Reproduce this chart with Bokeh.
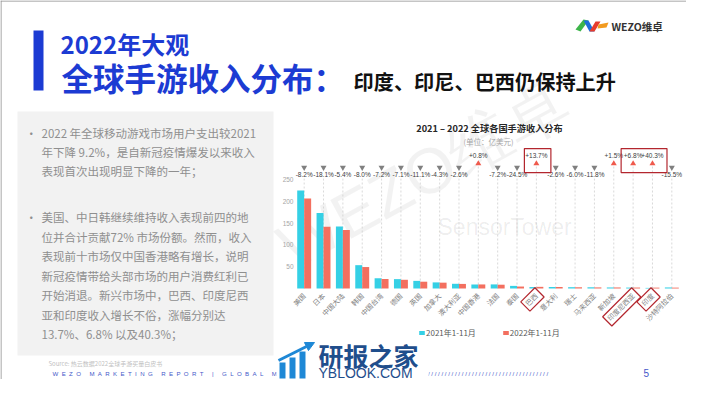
import math
from bokeh.plotting import figure
from bokeh.models import (ColumnDataSource, Range1d, FixedTicker, Label, Span,
                          BoxAnnotation, PolyAnnotation, Legend, LegendItem, Arrow, NormalHead)
from bokeh.embed import file_html
from bokeh.resources import INLINE
from bokeh.core.properties import value

# ---------------- data ----------------
categories = ["美国", "日本", "中国大陆", "韩国", "中国台湾", "德国", "英国", "加拿大",
              "澳大利亚", "中国香港", "法国", "泰国", "巴西", "意大利", "瑞士", "马来西亚",
              "新加坡", "印度尼西亚", "印度", "沙特阿拉伯"]
rev_2021 = [225.0, 173.0, 142.0, 53.5, 23.5, 21.5, 17.5, 14.0, 10.8, 9.2,
            9.4, 6.0, 3.3, 3.5, 3.0, 2.8, 2.4, 2.1, 1.4, 2.4]
rev_2022 = [206.5, 141.7, 134.3, 49.2, 21.8, 20.0, 15.6, 13.4, 10.5, 9.3,
            8.7, 4.5, 3.8, 3.4, 2.8, 2.5, 2.4, 2.2, 2.0, 2.0]
yoy_pct = [-8.2, -18.1, -5.4, -8.0, -7.2, -7.1, -11.1, -4.3, -2.6, 0.8,
           -7.2, -24.5, 13.7, -2.6, -6.0, -11.8, 1.5, 6.8, 40.3, -15.5]
y_ticks = [50, 100, 150, 200, 250]
series_names = ["2021年1-11月", "2022年1-11月"]
highlight_groups = [["巴西"], ["印度尼西亚", "印度"]]

chart_title = "2021 – 2022 全球各国手游收入分布"
chart_unit = "(单位：亿美元)"
head1 = "2022年大观"
head2 = "全球手游收入分布："
head3 = "印度、印尼、巴西仍保持上升"
para1 = ["2022 年全球移动游戏市场用户支出较2021",
         "年下降 9.2%，是自新冠疫情爆发以来收入",
         "表现首次出现明显下降的一年；"]
para2 = ["美国、中日韩继续维持收入表现前四的地",
         "位并合计贡献72% 市场份额。然而，收入",
         "表现前十市场仅中国香港略有增长，说明",
         "新冠疫情带给头部市场的用户消费红利已",
         "开始消退。新兴市场中，巴西、印度尼西",
         "亚和印度收入增长不俗，涨幅分别达",
         "13.7%、6.8% 以及40.3%；"]
source_note = "Source:  热云数据2022全球手游买量白皮书"
footer_text = "WEZO MARKETING REPORT | GLOBAL MOBILE GAME"
page_no = "5"

# ---------------- style / geometry ----------------
FONT = "Noto Sans CJK SC"
NUMFONT = "Liberation Sans"
C21 = "#35d0e5"
C22 = "#f36f5f"
BOXRED = "#b3262e"
BLUE = "#1c3bd3"
NB = "\u00a0"

W, H = 686, 379
X0, Y0 = 294, 288            # canvas px of data (0, 0)
U = 387 / 20                 # px per category
V = 143 / 328                # px per revenue unit
STANDOFF = 6

p = figure(width=W, height=H,
           x_range=Range1d(-X0 / U, (W - X0) / U),
           y_range=Range1d(-(H - Y0) / V, Y0 / V),
           min_border=0, output_backend="svg", toolbar_location=None, tools="")
p.outline_line_color = None
p.grid.visible = False
p.background_fill_color = "white"
p.border_fill_color = "white"

cx = [i + 0.5 for i in range(len(categories))]

p.xaxis.fixed_location = 0
p.xaxis.ticker = FixedTicker(ticks=cx)
p.xaxis.major_label_overrides = {c: name for c, name in zip(cx, categories)}
p.xaxis.axis_line_color = None
p.xaxis.major_tick_line_color = None
p.xaxis.minor_tick_line_color = None
p.xaxis.major_tick_out = 0
p.xaxis.major_label_standoff = STANDOFF
p.xaxis.major_label_orientation = math.pi / 4
p.xaxis.major_label_text_font = FONT
p.xaxis.major_label_text_font_size = "7px"
p.xaxis.major_label_text_color = "#808080"

p.yaxis.fixed_location = 0
p.yaxis.ticker = FixedTicker(ticks=y_ticks)
p.yaxis.axis_line_color = None
p.yaxis.major_tick_line_color = None
p.yaxis.minor_tick_line_color = None
p.yaxis.major_tick_out = 0
p.yaxis.major_label_standoff = 1
p.yaxis.major_label_text_font = NUMFONT
p.yaxis.major_label_text_font_size = "6.5px"
p.yaxis.major_label_text_color = "#a6a6a6"


def DX(rx):  # canvas px x -> data x
    return (rx - X0) / U


def DY(ry):  # canvas px y -> data y
    return (Y0 - ry) / V


def lab(text, x, y, size, color, bold=False, align="left", baseline="middle",
        angle=0.0, alpha=1.0, font=FONT):
    p.add_layout(Label(x=DX(x), y=DY(y), text=text,
                       text_font=font, text_font_size=f"{size}px", text_color=color,
                       text_font_style="bold" if bold else "normal", text_align=align,
                       text_baseline=baseline, angle=angle, text_alpha=alpha))


def box(x0, y0, x1, y1, color, alpha=1.0):
    p.add_layout(BoxAnnotation(left=DX(x0), right=DX(x1), top=DY(y0), bottom=DY(y1),
                               fill_color=color, fill_alpha=alpha, line_color=None,
                               line_alpha=0))


def poly(pts, color):
    p.add_layout(PolyAnnotation(xs=[DX(a) for a, b in pts], ys=[DY(b) for a, b in pts],
                                fill_color=color, fill_alpha=1.0, line_color=None,
                                line_alpha=0))


# ---------------- slide background pieces ----------------
box(17, 111, 273, 355, "#f2f2f2")
p.add_layout(Span(location=DX(0.5), dimension="height", line_color="#8c8c8c", line_width=1))
p.add_layout(Span(location=DY(0.5), dimension="width", line_color="#8c8c8c", line_width=1))

# ---------------- chart glyphs ----------------
neg = [v < 0 for v in yoy_pct]
src = ColumnDataSource(dict(
    cx=cx,
    x21=[c - 0.18 for c in cx], x22=[c + 0.18 for c in cx],
    y21=rev_2021, y22=rev_2022,
    seg_top=[252 if n else 283 for n in neg],
    tri_y=[277.5 if n else 286.5 for n in neg],
    marker=["inverted_triangle" if n else "triangle" for n in neg],
    tri_col=["#808080" if n else "#ef5a4c" for n in neg],
    lab_y=[261.5 if n else 305 for n in neg],
    lab=[f"{v:+.1f}%" for v in yoy_pct],
    zero=[0] * len(categories),
))

# chart watermarks (behind)
p.text(x=[DX(300)], y=[DY(282)], text=["WEZO维卓"], angle=0.5, text_font=value(NUMFONT),
       text_font_size="64px", text_color="#000000", text_alpha=0.05, text_baseline="bottom")
p.text(x=[DX(437)], y=[DY(226)], text=["SensorTower"], text_font=value(NUMFONT),
       text_font_size="23px", text_color="#000000", text_alpha=0.08, text_baseline="middle")

p.segment(x0="cx", y0="zero", x1="cx", y1="seg_top", source=src,
          line_color="#cfcfcf", line_width=0.8, line_dash="2 2")
r1 = p.vbar(x="x21", top="y21", width=0.36, source=src, fill_color=C21, line_color=None)
r2 = p.vbar(x="x22", top="y22", width=0.36, source=src, fill_color=C22, line_color=None)
p.scatter(x="cx", y="tri_y", marker="marker", size=6, fill_color="tri_col",
          line_color=None, source=src)
p.text(x="cx", y="lab_y", text="lab", source=src, text_align="center",
       text_baseline="middle", text_font=value(NUMFONT), text_font_size="6.5px",
       text_color="#404040")

# highlight boxes: around the change labels and around the rotated axis labels
c45 = math.cos(math.pi / 4)
bx, by = [], []
for g in highlight_groups:
    i0, i1 = categories.index(g[0]), categories.index(g[-1])
    p.quad(left=i0 - 0.12, right=i1 + 1.25, bottom=266, top=321, fill_color=None,
           line_color=BOXRED, line_width=1.2)
    for c in g:
        i = categories.index(c)
        L = 7.0 * len(c)       # label length in px
        pad, hw = 3.0, 6.5
        ax_, ay_ = 1.0, STANDOFF   # anchor offset from (tick, baseline), px
        pts = []
        for along, side in ((-pad, hw), (-pad, -hw), (L + pad, -hw), (L + pad, hw)):
            px = ax_ - along * c45 + side * c45
            py = ay_ + along * c45 + side * c45
            pts.append((cx[i] + px / U, -py / V))
        bx.append([q[0] for q in pts])
        by.append([q[1] for q in pts])
p.patches(xs=bx, ys=by, fill_color=None, line_color=BOXRED, line_width=1.2)

legend = Legend(items=[LegendItem(label=series_names[0], renderers=[r1]),
                       LegendItem(label=series_names[1], renderers=[r2])],
                orientation="horizontal", location=(418, H - 338), margin=0,
                padding=0, glyph_width=7, glyph_height=5, label_height=10, label_standoff=1,
                spacing=26, label_text_font=FONT, label_text_font_size="8px",
                label_text_color="#595959", border_line_color=None, background_fill_alpha=0)
p.add_layout(legend)

lab(chart_title, 489, 127, 9.2, "#262626", bold=True, align="center")
lab(chart_unit, 488, 141, 7.5, "#a6a6a6", align="center")

# ---------------- slide decoration ----------------
box(33, 30, 43, 90, BLUE)
lab(head1, 60, 43, 24, BLUE, bold=True)
lab(head2, 61, 76, 31.5, BLUE, bold=True)
lab(head3, 353, 81, 20.2, "#111111", bold=True)

# logo
poly([(575, 29), (583, 19), (588, 20), (580, 31)], "#3db54a")
poly([(583, 20), (588, 20), (594, 31), (589, 31)], "#1e6fd9")
poly([(589, 31), (594, 31), (600, 21), (595, 21)], "#e63c2e")
poly([(598, 24), (608, 22), (606, 27), (597, 28)], "#f29a1f")
lab("WEZO维卓", 611, 26, 10.5, "#333333", bold=True)

# body text
y1 = [132, 151, 170]
y2 = [216, 236, 255.5, 275, 294.5, 314, 333]
for i, t in enumerate(para1):
    lab(t, 41, y1[i], 11.5, "#8f8f8f")
for i, t in enumerate(para2):
    lab(t, 41, y2[i], 11.5, "#8f8f8f")
lab("•", 25, y1[0], 11.5, "#8f8f8f")
lab("•", 25, y2[0], 11.5, "#8f8f8f")

# footer
lab(source_note, 48, 363, 6, "#bfbfbf")
footer = (NB * 2).join(footer_text.replace(" ", NB)) + NB * 3 + (NB).join("/" * 58)
lab(footer, 52, 373, 6.1, "#4458c9", font=NUMFONT)
lab(page_no, 643, 372, 10, "#4458c9", font=NUMFONT)

# site watermark
box(276, 340, 428, 379, "white")
box(279, 362, 285, 378, "#1e88d6")
box(289, 357, 295, 378, "#1e88d6")
box(299, 351, 305, 378, "#1e88d6")
p.add_layout(Arrow(x_start=DX(278), y_start=DY(360), x_end=DX(314), y_end=DY(342),
                   line_color="#1e88d6", line_width=3,
                   end=NormalHead(size=9, fill_color="#1e88d6", line_color="#1e88d6")))
lab("研报之家", 318, 354, 25, "#1f4e8c", bold=True)
lab("YBLOOK.COM", 318, 372, 14, "#1f4e8c", font=NUMFONT)

open("out.html", "w").write(file_html(p, INLINE))
